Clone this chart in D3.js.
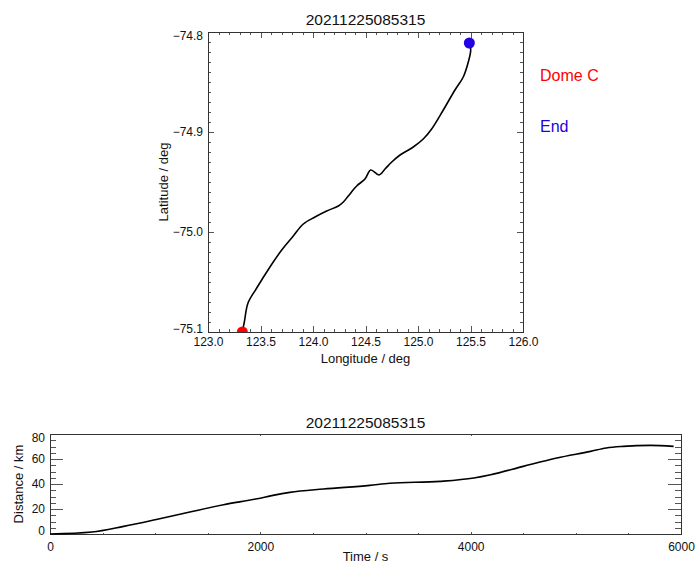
<!DOCTYPE html>
<html lang="en">
<head>
    <meta charset="UTF-8">
    <title>20211225085315</title>
    <style>
        body { margin: 0; background: #fff; }
        svg text { font-family: "Liberation Sans", Arial, sans-serif; fill: #111; }
        .axis path { display: none; }
        .axis line { stroke: #555; shape-rendering: crispEdges; }
        .frame { fill: none; stroke: #333; stroke-width: 1; shape-rendering: crispEdges; }
    </style>
</head>
<body>
<svg id="chart"></svg>
<script src="https://cdnjs.cloudflare.com/ajax/libs/d3/7.8.5/d3.min.js"></script>
<script>
    var width = 696;
    var height = 565;
    var title = "20211225085315";

    // track
    var lon = [123.327, 123.346, 123.381, 123.464, 123.590, 123.702, 123.812, 123.908,
               124.019, 124.130, 124.241, 124.289, 124.336, 124.416, 124.495, 124.550,
               124.629, 124.686, 124.750, 124.829, 124.955, 125.050, 125.130, 125.241,
               125.352, 125.431, 125.479, 125.502, 125.489];
    var lat = [-75.100, -75.090, -75.071, -75.056, -75.035, -75.018, -75.004, -74.992,
               -74.985, -74.979, -74.974, -74.970, -74.964, -74.954, -74.947, -74.938,
               -74.943, -74.937, -74.930, -74.923, -74.915, -74.907, -74.897, -74.878,
               -74.858, -74.845, -74.830, -74.818, -74.811];
    var lonTicks = [123.0, 123.5, 124.0, 124.5, 125.0, 125.5, 126.0];
    var latTicks = [-74.8, -74.9, -75.0, -75.1];

    // distance against time
    var time = [0, 400, 700, 1000, 1330, 1650, 1970, 2120, 2280, 2600, 3040, 3230,
                3710, 4030, 4190, 4500, 4820, 5140, 5290, 5450, 5710, 5930];
    var dist = [0, 1.6, 6.1, 11.4, 17.6, 23.4, 28.2, 30.9, 33.3, 36.0, 38.9, 40.6,
                42.1, 44.8, 47.4, 54.1, 60.8, 66.1, 68.8, 70.1, 70.9, 70.1];
    var timeTicks = [0, 2000, 4000, 6000];
    var distTicks = [0, 20, 40, 60, 80];

    var svg = d3.select("#chart").attr("width", width).attr("height", height);

    // draws an IDL style box: ticks inward on all four sides
    function box(g, x, y, o) {
        var w = x.range()[1] - x.range()[0];
        var h = y.range()[0] - y.range()[1];
        var xMaj = 0.02 * h, yMaj = 0.02 * w;
        var xMinor = d3.range(x.domain()[0], x.domain()[1] + 1e-9, o.xMinor);
        var yMinor = d3.range(y.domain()[0], y.domain()[1] + 1e-9, o.yMinor);

        function ax(gen, vals, size, fmt, pad, tr) {
            return g.append("g").attr("class", "axis").attr("transform", tr)
                .call(gen.tickValues(vals).tickSize(-size).tickPadding(pad)
                    .tickFormat(fmt || ""))
                .call(function(s) { s.selectAll("text").attr("font-size", 12); });
        }
        var b = "translate(0," + y.range()[0] + ")";
        var t = "translate(0," + y.range()[1] + ")";
        var l = "translate(" + x.range()[0] + ",0)";
        var r = "translate(" + x.range()[1] + ",0)";
        // minor
        ax(d3.axisBottom(x), xMinor, xMaj / 2, null, 0, b);
        ax(d3.axisTop(x), xMinor, xMaj / 2, null, 0, t);
        ax(d3.axisLeft(y), yMinor, yMaj / 2, null, 0, l);
        ax(d3.axisRight(y), yMinor, yMaj / 2, null, 0, r);
        // major
        ax(d3.axisBottom(x), o.xTicks, xMaj, o.xFmt, o.xPad, b);
        ax(d3.axisTop(x), o.xTicks, xMaj, null, 0, t);
        var yl = ax(d3.axisLeft(y), o.yTicks, yMaj, o.yFmt, 5, l);
        ax(d3.axisRight(y), o.yTicks, yMaj, null, 0, r);
        // end labels nudged inside like IDL does
        yl.selectAll(".tick text").attr("dy", function(d) {
            if (Math.abs(d - y.domain()[0]) < 1e-9) return "-0.0em";
            if (Math.abs(d - y.domain()[1]) < 1e-9) return "0.6em";
            return "0.32em";
        });
        g.append("rect").attr("class", "frame")
            .attr("x", x.range()[0]).attr("y", y.range()[1])
            .attr("width", w).attr("height", h);
    }

    // ---- map panel ----
    var mx = d3.scaleLinear().domain([123.0, 126.0]).range([208, 523]);
    var my = d3.scaleLinear().domain([-75.1, -74.8]).range([332, 32]);
    var map = svg.append("g");

    map.append("clipPath").attr("id", "mapclip").append("rect")
        .attr("x", 208).attr("y", 32).attr("width", 315).attr("height", 300);

    box(map, mx, my, {
        xTicks: lonTicks, yTicks: latTicks, xMinor: 0.1, yMinor: 0.01,
        xFmt: d3.format(".1f"), yFmt: d3.format(".1f"), xPad: 5
    });

    var track = d3.range(lon.length).map(function(i) { return [lon[i], lat[i]]; });
    map.append("path")
        .datum(track)
        .attr("clip-path", "url(#mapclip)")
        .attr("fill", "none")
        .attr("stroke", "#000")
        .attr("stroke-width", 1.6)
        .attr("stroke-linejoin", "round")
        .attr("d", d3.line().curve(d3.curveCatmullRom.alpha(0.5))
            .x(function(d) { return mx(d[0]); }).y(function(d) { return my(d[1]); }));

    var ends = [
        {p: track[0], c: "#ff0000", label: "Dome C", ly: 81},
        {p: track[track.length - 1], c: "#2200e6", label: "End", ly: 132}
    ];
    map.selectAll("circle.end").data(ends).enter().append("circle")
        .attr("class", "end")
        .attr("clip-path", "url(#mapclip)")
        .attr("cx", function(d) { return mx(d.p[0]); })
        .attr("cy", function(d) { return my(d.p[1]); })
        .attr("r", 5.5)
        .attr("fill", function(d) { return d.c; });
    map.selectAll("text.lab").data(ends).enter().append("text")
        .attr("class", "lab")
        .attr("x", 540).attr("y", function(d) { return d.ly; })
        .attr("font-size", 16)
        .style("fill", function(d) { return d.c; })
        .text(function(d) { return d.label; });

    map.append("text").attr("x", 365.5).attr("y", 25).attr("text-anchor", "middle")
        .attr("font-size", 15.5).text(title);
    map.append("text").attr("x", 365.5).attr("y", 363).attr("text-anchor", "middle")
        .attr("font-size", 13).text("Longitude / deg");
    map.append("text").attr("transform", "translate(168,182) rotate(-90)")
        .attr("text-anchor", "middle").attr("font-size", 13).text("Latitude / deg");

    // ---- distance panel ----
    var tx = d3.scaleLinear().domain([0, 6000]).range([50, 681]);
    var ty = d3.scaleLinear().domain([0, 80]).range([534, 434]);
    var dp = svg.append("g");

    box(dp, tx, ty, {
        xTicks: timeTicks, yTicks: distTicks, xMinor: 500, yMinor: 5,
        xFmt: d3.format("d"), yFmt: d3.format("d"), xPad: 8
    });

    dp.append("path")
        .datum(d3.zip(time, dist))
        .attr("fill", "none")
        .attr("stroke", "#000")
        .attr("stroke-width", 1.6)
        .attr("stroke-linejoin", "round")
        .attr("d", d3.line().curve(d3.curveMonotoneX)
            .x(function(d) { return tx(d[0]); }).y(function(d) { return ty(d[1]); }));

    dp.append("text").attr("x", 365.5).attr("y", 428).attr("text-anchor", "middle")
        .attr("font-size", 15.5).text(title);
    dp.append("text").attr("x", 365.5).attr("y", 561).attr("text-anchor", "middle")
        .attr("font-size", 13).text("Time / s");
    dp.append("text").attr("transform", "translate(23,484) rotate(-90)")
        .attr("text-anchor", "middle").attr("font-size", 13).text("Distance / km");
</script>
</body>
</html>
